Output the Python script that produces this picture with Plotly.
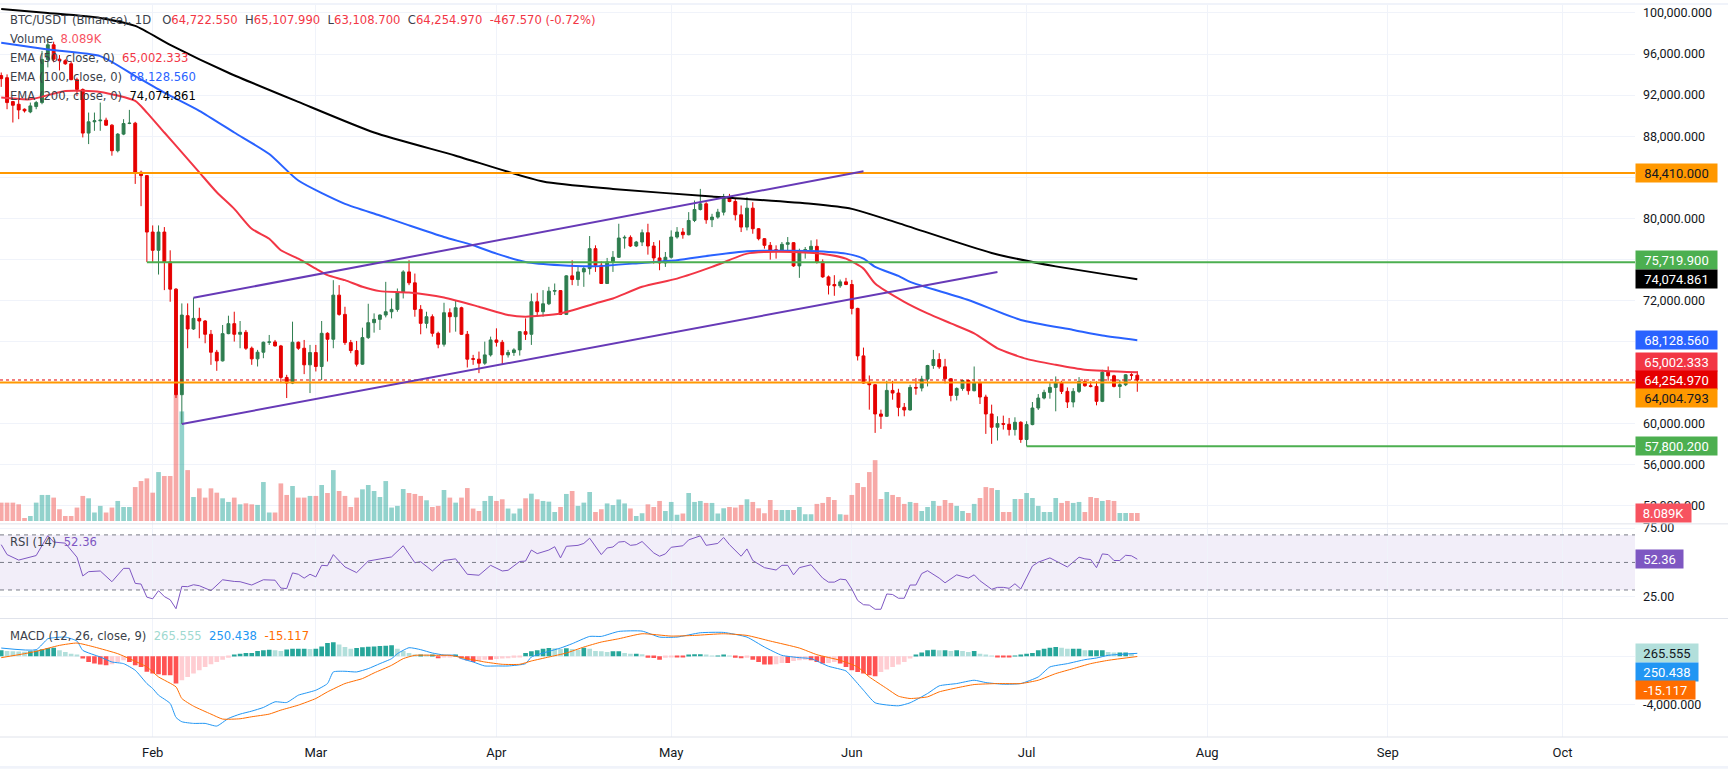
import pandas as pd
import plotly.graph_objects as go

# ---------------- data ----------------
dates = pd.date_range("2026-01-06", "2026-07-20", freq="D")

ohlc_rows = [
    # Jan
    (93900, 94200, 92800, 93600), (93695, 94019, 90624, 91271), (91368, 91433, 89331, 91012),
    (91109, 91594, 89655, 90560), (90624, 90700, 90300, 90463), (90366, 91271, 90237, 90948),
    (90883, 91433, 90624, 91271), (91271, 96300, 91109, 95474), (95474, 97400, 94700, 96900),
    (96900, 97200, 95200, 95500), (95500, 95900, 94400, 95350), (95350, 95500, 94950, 95050),
    (95050, 95300, 93450, 93500), (93500, 93700, 91900, 92550), (92550, 92650, 87880, 88300),
    (88300, 90300, 87230, 89400), (89400, 90300, 88523, 89500), (89500, 91271, 88523, 89560),
    (89560, 89800, 89000, 89073), (89073, 89170, 86098, 86583), (86583, 88300, 86421, 88200),
    (88200, 89655, 88100, 89234), (89234, 90560, 89170, 89267), (89267, 89396, 83350, 84481),
    (84481, 84643, 81183, 84158), (84158, 84222, 75753, 78663),
    # Feb
    (78663, 79309, 75753, 76885), (76885, 79309, 74525, 78663), (78663, 79148, 73005, 75753),
    (75753, 76885, 71874, 73102), (73102, 73200, 62500, 62821), (62821, 71712, 59970, 70580),
    (70516, 71712, 67347, 69223), (69223, 72260, 69126, 70257), (70257, 71292, 68317, 69999),
    (69999, 70096, 67832, 68706), (68706, 69126, 65730, 66959), (66959, 67185, 65148, 66118),
    (66118, 69611, 66054, 68770), (68770, 70516, 68706, 69740), (69740, 70904, 67994, 68706),
    (68706, 69999, 67347, 68900), (68900, 69126, 67185, 67347), (67347, 67509, 65730, 66312),
    (66312, 67185, 65569, 66959), (66959, 67994, 66377, 67929), (67929, 68640, 67670, 67960),
    (67960, 68155, 67509, 67573), (67573, 67670, 63952, 64502), (64502, 64760, 62497, 63952),
    (63952, 69934, 63855, 67929), (67929, 68000, 67185, 67347), (67347, 68155, 64825, 65730),
    (65730, 67670, 62983, 66926),
    # Mar
    (66926, 67670, 65083, 65568), (65568, 70000, 64245, 68802), (68802, 68900, 66053, 68220),
    (68220, 73974, 67346, 72519), (72519, 73490, 70515, 70644), (70644, 71388, 67670, 67896),
    (67896, 68155, 66862, 67120), (67120, 68058, 65568, 65795), (65795, 69351, 65730, 68381),
    (68381, 71678, 68252, 69836), (69836, 70741, 68867, 70159), (70159, 70644, 69125, 70580),
    (70580, 73813, 70353, 70903), (70903, 72196, 70256, 71130), (71130, 73166, 70903, 72778),
    (72778, 74944, 72196, 74782), (74782, 75914, 73490, 73716), (73716, 74621, 70418, 71130),
    (71130, 71550, 68704, 69771), (69771, 70903, 69286, 70418), (70418, 70644, 68478, 68802),
    (68802, 68963, 67346, 67735), (67735, 71775, 67508, 70806), (70806, 71227, 68867, 70418),
    (70418, 72034, 68963, 71291), (71291, 71388, 68640, 68704), (68704, 69028, 65472, 66280),
    (66330, 66700, 65730, 66280), (66280, 67023, 64923, 65892), (65892, 67993, 65730, 66700),
    (66700, 68478, 66538, 68155),
    # Apr
    (68155, 69286, 67508, 67928), (67928, 68155, 65730, 66700), (66700, 67185, 66441, 66926),
    (66926, 67346, 66603, 67185), (67185, 69028, 66635, 68963), (68963, 70256, 68155, 68705),
    (68705, 72680, 67670, 71872), (71872, 72745, 70580, 70903), (70903, 73004, 70418, 71678),
    (71678, 73328, 71550, 72906), (72906, 73651, 72519, 72960), (72960, 73004, 70580, 70644),
    (70644, 74460, 70580, 74395), (74395, 75914, 73490, 74038), (74038, 75267, 73425, 74782),
    (74782, 75267, 73328, 75105), (75105, 78274, 74524, 77046), (77046, 77369, 74782, 75429),
    (75429, 75800, 73600, 73651), (73651, 76140, 73600, 75752), (75752, 76810, 74780, 76205),
    (76205, 79470, 76140, 78080), (78080, 78340, 77045, 78144), (78144, 78340, 77200, 77304),
    (77304, 77800, 77200, 77692), (77692, 78920, 77304, 78597), (78597, 79470, 76463, 77304),
    (77304, 77692, 75590, 76140), (76140, 77854, 74944, 75655), (75655, 76721, 75267, 76205),
    # May
    (76205, 78823, 76077, 78177), (78177, 79147, 78015, 78662), (78662, 79050, 78015, 78403),
    (78403, 80602, 78338, 79793), (79793, 81733, 79632, 80860), (80860, 82865, 80762, 81410),
    (81410, 81571, 79470, 79858), (79858, 80440, 79147, 80117), (80117, 80925, 79955, 80602),
    (80602, 82380, 80279, 82121), (82121, 82380, 81571, 81636), (81636, 81894, 79793, 80343),
    (80343, 81248, 78662, 79147), (79147, 82057, 78823, 80990), (80990, 81571, 78500, 78985),
    (78985, 79050, 77854, 78015), (78015, 78080, 77045, 77368), (77368, 77692, 75979, 76851),
    (76948, 77368, 76075, 76819), (76819, 77692, 76787, 77466), (77466, 78177, 76721, 77627),
    (77627, 77692, 75267, 75364), (75364, 77045, 74200, 76851), (76851, 77207, 76077, 76948),
    (76948, 77854, 76721, 77272), (77272, 77950, 75590, 75752), (75752, 76000, 74200, 74297),
    (74297, 74427, 72583, 73489), (73554, 74460, 72455, 73425), (73425, 74038, 73230, 73812),
    (73812, 74200, 73489, 73554),
    # Jun
    (73554, 74000, 70644, 71226), (71226, 71291, 66150, 66603), (66603, 67411, 63887, 63952),
    (63952, 64695, 61365, 63790), (63790, 63855, 59102, 60945), (60945, 61365, 59490, 60719),
    (60719, 64178, 60654, 63240), (63240, 64178, 62335, 62982), (62982, 63400, 60719, 61592),
    (61592, 62013, 60719, 61334), (61334, 63790, 61269, 63532), (63532, 64437, 62821, 63468),
    (63468, 64663, 63144, 64340), (64340, 65731, 63629, 65666), (65666, 67185, 65343, 66248),
    (66248, 66862, 65343, 65537), (65537, 66312, 63920, 64373), (64373, 64437, 62175, 62756),
    (62756, 63532, 62272, 63435), (63435, 64276, 63209, 64211), (64211, 64276, 62821, 63209),
    (63209, 65569, 63144, 63952), (63952, 64114, 61916, 62595), (62595, 62821, 59006, 60945),
    (60945, 61851, 58035, 59653), (59653, 60719, 58359, 60008), (60008, 60784, 59426, 59944),
    (59944, 60558, 58844, 59426), (59426, 60622, 58844, 60137), (60137, 60234, 58133, 58456),
    # Jul
    (58456, 60234, 57800, 59911), (59911, 62110, 59847, 61527), (61527, 62885, 61333, 62497),
    (62497, 63306, 62368, 63047), (63047, 63952, 62433, 63532), (63532, 64599, 61204, 63952),
    (63952, 64178, 62886, 63144), (63144, 63532, 61527, 62110), (62110, 63468, 61592, 63144),
    (63144, 64534, 62982, 64114), (64114, 64340, 63597, 63694), (63694, 64114, 63532, 63630),
    (63630, 64114, 61787, 62175), (62175, 65246, 62100, 65020), (65020, 65569, 64179, 64663),
    (64663, 64760, 63532, 63630), (63630, 64276, 62498, 63791), (63791, 64825, 63662, 64760),
    (64760, 64922, 64276, 64722.54), (64722.55, 65107.99, 63108.70, 64254.97),
]
open_ = [r[0] for r in ohlc_rows]
high = [r[1] for r in ohlc_rows]
low = [r[2] for r in ohlc_rows]
close = [r[3] for r in ohlc_rows]

volume_k = [
    18.5, 18.5, 18.5, 16.8, 3.0, 5.0, 18.5, 26.3, 26.3, 23.6, 11.8, 5.0, 5.0, 13.5, 25.3, 22.9,
    8.4, 15.2, 8.4, 13.5, 20.2, 14.1, 14.1, 34.3, 40.4, 43.1,
    28.6, 49.5, 45.5, 45.5, 128.0, 111.0, 51.5, 24.2, 33.0, 23.6, 33.0, 28.6, 22.9, 19.2, 23.6,
    16.8, 17.8, 16.8, 16.2, 39.4, 8.4, 8.4, 38.0, 26.3, 35.4, 23.6, 23.6, 25.3,
    25.3, 36.4, 28.3, 51.5, 30.3, 25.3, 14.1, 23.6, 32.0, 36.4, 30.3, 24.2, 40.4, 13.5, 15.2,
    32.3, 28.3, 27.3, 25.3, 20.9, 14.1, 15.2, 31.3, 23.6, 18.5, 23.6, 33.3, 12.5, 10.1, 20.2, 25.3,
    20.2, 21.9, 12.5, 7.4, 12.5, 22.9, 27.6, 21.9, 20.2, 19.5, 9.1, 14.1, 27.3, 30.3, 15.2,
    18.5, 29.3, 9.1, 11.7, 17.7, 16.0, 21.7, 17.7, 12.6, 5.0, 7.7, 16.8, 14.1, 20.2, 10.1,
    19.2, 6.1, 7.4, 28.3, 19.2, 20.2, 18.2, 18.2, 7.4, 12.8, 14.1, 13.5, 16.2, 21.9, 19.2,
    12.8, 7.7, 21.2, 11.1, 11.1, 11.1, 11.1, 14.1, 6.7, 6.7, 17.2, 18.2, 24.2, 21.2, 6.7, 6.1,
    26.3, 38.4, 34.3, 49.5, 61.6, 22.2, 29.3, 26.3, 24.2, 17.2, 19.2, 18.2, 10.1, 14.1, 20.2,
    15.2, 21.2, 18.2, 15.2, 10.1, 8.1, 17.2, 23.2, 34.3, 33.3, 31.3, 9.1, 9.1, 22.2, 22.2,
    28.3, 23.2, 15.2, 9.1, 9.1, 23.2, 18.2, 20.2, 18.2, 19.2, 9.1, 24.2, 23.2, 20.2, 21.2,
    20.2, 8.1, 8.1, 8.1, 8.089,
]

ema50_dates = ["2026-01-06", "2026-01-11", "2026-01-17", "2026-01-23", "2026-01-29", "2026-01-31",
               "2026-02-03", "2026-02-06", "2026-02-09", "2026-02-12", "2026-02-15", "2026-02-18",
               "2026-02-21", "2026-02-23", "2026-02-26", "2026-03-01", "2026-03-03", "2026-03-06",
               "2026-03-09", "2026-03-12", "2026-03-17", "2026-03-23", "2026-03-29", "2026-04-03",
               "2026-04-06", "2026-04-12", "2026-04-18", "2026-04-21", "2026-04-26", "2026-05-02",
               "2026-05-08", "2026-05-14", "2026-05-17", "2026-05-22", "2026-05-28", "2026-05-31",
               "2026-06-03", "2026-06-05", "2026-06-10", "2026-06-14", "2026-06-18", "2026-06-22",
               "2026-06-26", "2026-07-01", "2026-07-06", "2026-07-11", "2026-07-20"]
ema50 = [91756, 91590, 92405, 92310, 91435, 90300, 88360, 86420, 84480, 82540, 80920, 78980,
         78010, 76890, 76070, 75100, 74460, 73980, 73330, 72910, 72775, 72290, 71390, 70580,
         70420, 70740, 71710, 72190, 73330, 74130, 75270, 76560, 76720, 76720, 76460, 76070,
         75100, 73650, 71870, 70740, 69770, 68800, 67340, 66310, 65730, 65250, 65002.333]

ema100_dates = ["2026-01-06", "2026-01-14", "2026-01-23", "2026-01-29", "2026-02-03", "2026-02-09",
                "2026-02-15", "2026-02-21", "2026-02-26", "2026-03-06", "2026-03-12", "2026-03-17",
                "2026-03-23", "2026-03-28", "2026-04-01", "2026-04-06", "2026-04-12", "2026-04-18",
                "2026-04-26", "2026-05-02", "2026-05-08", "2026-05-14", "2026-05-20", "2026-05-25",
                "2026-05-31", "2026-06-03", "2026-06-05", "2026-06-09", "2026-06-11", "2026-06-21",
                "2026-06-30", "2026-07-09", "2026-07-14", "2026-07-20"]
ema100 = [97090, 96440, 95800, 93860, 92240, 90470, 88360, 86260, 83680, 81410, 80280, 79310,
          78180, 77370, 76560, 75750, 75430, 75335, 75660, 75920, 76400, 76790, 76850, 76820,
          76560, 76070, 75270, 74390, 73810, 72040, 70100, 69130, 68580, 68128.56]

ema200_dates = ["2026-01-06", "2026-01-14", "2026-01-23", "2026-01-29", "2026-02-04", "2026-02-14",
                "2026-02-26", "2026-03-11", "2026-03-25", "2026-04-09", "2026-04-21", "2026-05-08",
                "2026-05-25", "2026-06-01", "2026-06-09", "2026-06-25", "2026-07-06", "2026-07-20"]
ema200 = [100390, 100000, 99515, 98740, 96900, 94180, 91340, 88360, 86100, 83580, 82860, 82125,
          81410, 80920, 79535, 76625, 75320, 74074.861]

rsi_dates = ["2026-01-06", "2026-01-07", "2026-01-09", "2026-01-12", "2026-01-14", "2026-01-15",
             "2026-01-17", "2026-01-19", "2026-01-20", "2026-01-21", "2026-01-23", "2026-01-25",
             "2026-01-27", "2026-01-28", "2026-01-29", "2026-01-30", "2026-01-31", "2026-02-01",
             "2026-02-02", "2026-02-03", "2026-02-04", "2026-02-05", "2026-02-06", "2026-02-07",
             "2026-02-08", "2026-02-09", "2026-02-11", "2026-02-13", "2026-02-15", "2026-02-16",
             "2026-02-18", "2026-02-20", "2026-02-22", "2026-02-23", "2026-02-24", "2026-02-25",
             "2026-02-26", "2026-02-27", "2026-02-28", "2026-03-01", "2026-03-02", "2026-03-03",
             "2026-03-04", "2026-03-06", "2026-03-08", "2026-03-10", "2026-03-14", "2026-03-16",
             "2026-03-18", "2026-03-19", "2026-03-21", "2026-03-23", "2026-03-25", "2026-03-27",
             "2026-03-29", "2026-03-31", "2026-04-02", "2026-04-03", "2026-04-05", "2026-04-06",
             "2026-04-07", "2026-04-08", "2026-04-10", "2026-04-11", "2026-04-12", "2026-04-13",
             "2026-04-15", "2026-04-16", "2026-04-17", "2026-04-19", "2026-04-20", "2026-04-21",
             "2026-04-22", "2026-04-23", "2026-04-24", "2026-04-25", "2026-04-26", "2026-04-28",
             "2026-04-29", "2026-04-30", "2026-05-01", "2026-05-03", "2026-05-04", "2026-05-06",
             "2026-05-07", "2026-05-09", "2026-05-10", "2026-05-11", "2026-05-13", "2026-05-14",
             "2026-05-15", "2026-05-17", "2026-05-19", "2026-05-20", "2026-05-21", "2026-05-22",
             "2026-05-23", "2026-05-25", "2026-05-27", "2026-05-28", "2026-05-29", "2026-05-30",
             "2026-05-31", "2026-06-01", "2026-06-02", "2026-06-03", "2026-06-04", "2026-06-05",
             "2026-06-06", "2026-06-07", "2026-06-08", "2026-06-09", "2026-06-10", "2026-06-11",
             "2026-06-12", "2026-06-13", "2026-06-14", "2026-06-16", "2026-06-17", "2026-06-19",
             "2026-06-21", "2026-06-22", "2026-06-23", "2026-06-25", "2026-06-26", "2026-06-27",
             "2026-06-28", "2026-06-29", "2026-06-30", "2026-07-01", "2026-07-02", "2026-07-03",
             "2026-07-05", "2026-07-08", "2026-07-10", "2026-07-11", "2026-07-12", "2026-07-13",
             "2026-07-14", "2026-07-15", "2026-07-16", "2026-07-17", "2026-07-18", "2026-07-19",
             "2026-07-20"]
rsi = [62.9, 55.7, 51.7, 55.0, 69.5, 64.8, 64.0, 53.8, 40.2, 43.3, 43.8, 36.0, 45.7, 45.7, 34.8,
       34.3, 24.8, 23.6, 29.5, 25.2, 22.9, 16.4, 32.6, 32.4, 33.8, 33.1, 29.5, 37.4, 36.2, 36.0,
       33.6, 37.4, 37.1, 31.4, 31.0, 42.4, 41.4, 38.6, 41.4, 39.5, 47.9, 47.6, 55.7, 46.7, 42.6,
       51.0, 54.0, 62.1, 49.8, 50.5, 43.8, 51.4, 52.6, 41.4, 40.7, 47.9, 43.8, 44.3, 50.7, 51.0,
       59.0, 56.4, 59.0, 61.4, 53.3, 61.7, 62.4, 63.8, 67.6, 55.7, 60.5, 61.2, 64.8, 65.2, 62.4,
       62.9, 65.2, 56.9, 54.5, 56.2, 61.0, 62.1, 66.4, 69.3, 62.4, 63.8, 68.1, 62.9, 54.5, 59.8,
       51.4, 46.2, 44.5, 47.9, 47.9, 41.0, 46.2, 48.3, 38.6, 35.7, 35.7, 37.9, 37.4, 30.7, 22.4,
       19.3, 19.0, 16.0, 16.0, 27.1, 26.7, 24.0, 24.0, 33.6, 33.6, 41.9, 44.0, 38.6, 35.2, 41.0,
       38.6, 41.0, 36.7, 30.5, 31.9, 31.9, 31.2, 34.5, 30.7, 39.0, 47.4, 50.2, 53.3, 46.7, 53.8,
       52.6, 52.1, 46.2, 56.2, 55.7, 51.4, 51.4, 55.2, 54.8, 52.36]

macd_dates = ["2026-01-06", "2026-01-12", "2026-01-14", "2026-01-15", "2026-01-17", "2026-01-19",
              "2026-01-20", "2026-01-23", "2026-01-25", "2026-01-27", "2026-01-29", "2026-01-31",
              "2026-02-01", "2026-02-02", "2026-02-04", "2026-02-05", "2026-02-06", "2026-02-08",
              "2026-02-10", "2026-02-12", "2026-02-14", "2026-02-16", "2026-02-18", "2026-02-20",
              "2026-02-22", "2026-02-24", "2026-02-26", "2026-02-27", "2026-03-01", "2026-03-03",
              "2026-03-04", "2026-03-06", "2026-03-08", "2026-03-10", "2026-03-12", "2026-03-14",
              "2026-03-15", "2026-03-17", "2026-03-19", "2026-03-21", "2026-03-23", "2026-03-25",
              "2026-03-26", "2026-03-28", "2026-03-30", "2026-04-01", "2026-04-03", "2026-04-06",
              "2026-04-07", "2026-04-10", "2026-04-12", "2026-04-14", "2026-04-17", "2026-04-19",
              "2026-04-22", "2026-04-26", "2026-04-29", "2026-05-02", "2026-05-06", "2026-05-10",
              "2026-05-14", "2026-05-17", "2026-05-20", "2026-05-23", "2026-05-25", "2026-05-28",
              "2026-05-31", "2026-06-01", "2026-06-03", "2026-06-05", "2026-06-09", "2026-06-11",
              "2026-06-14", "2026-06-16", "2026-06-19", "2026-06-22", "2026-06-24", "2026-06-27",
              "2026-06-30", "2026-07-03", "2026-07-05", "2026-07-08", "2026-07-11", "2026-07-13",
              "2026-07-15", "2026-07-20"]
macd = [694, 556, 1472, 1556, 1611, 1278, 500, -56, -472, -611, -1167, -2278, -2695, -3250,
        -3945, -5111, -5473, -5612, -5612, -5834, -5195, -4834, -4584, -4278, -3806, -3861,
        -3250, -3111, -2834, -2278, -1306, -1250, -1306, -1028, -611, -194, 222, 722, 556, 278,
        111, 83, -194, -472, -806, -806, -806, -611, -56, 417, 694, 1056, 1667, 1667, 2084,
        2111, 1611, 1611, 1972, 2000, 1611, 778, 83, -111, -194, -833, -1222, -1722, -2834,
        -3889, -4139, -3889, -3111, -2472, -2278, -2000, -2195, -2334, -2278, -1722, -889,
        -611, -278, -139, 83, 250.438]

signal_dates = ["2026-01-06", "2026-01-10", "2026-01-12", "2026-01-16", "2026-01-19", "2026-01-22",
                "2026-01-26", "2026-01-28", "2026-01-31", "2026-02-02", "2026-02-05", "2026-02-06",
                "2026-02-08", "2026-02-11", "2026-02-13", "2026-02-16", "2026-02-18", "2026-02-21",
                "2026-02-23", "2026-02-26", "2026-03-01", "2026-03-03", "2026-03-06", "2026-03-09",
                "2026-03-11", "2026-03-14", "2026-03-16", "2026-03-18", "2026-03-22", "2026-03-24",
                "2026-03-27", "2026-03-30", "2026-04-02", "2026-04-05", "2026-04-07", "2026-04-10",
                "2026-04-13", "2026-04-16", "2026-04-19", "2026-04-22", "2026-04-26", "2026-05-01",
                "2026-05-05", "2026-05-10", "2026-05-14", "2026-05-18", "2026-05-23", "2026-05-26",
                "2026-05-30", "2026-06-02", "2026-06-04", "2026-06-07", "2026-06-09", "2026-06-11",
                "2026-06-14", "2026-06-16", "2026-06-19", "2026-06-22", "2026-06-26", "2026-06-30",
                "2026-07-03", "2026-07-06", "2026-07-09", "2026-07-12", "2026-07-15", "2026-07-20"]
signal = [-111, 222, 417, 917, 1111, 778, 222, -194, -889, -1722, -2556, -3528, -4167, -4834,
          -5250, -5223, -5056, -4834, -4500, -4084, -3528, -2973, -2278, -1861, -1389, -750,
          -194, 83, 83, 83, -194, -472, -667, -667, -389, -56, 278, 778, 1195, 1472, 1889, 1695,
          1750, 1889, 1750, 1278, 694, 139, -333, -889, -1722, -2695, -3334, -3528, -3389,
          -2973, -2639, -2361, -2278, -2278, -2000, -1445, -1028, -611, -333, -15.117]

hist = [
    500, 450, 420, 400, 380, 420, 480, 600, 700, 720, 500, 360, 220, 80, -190, -470, -610,
    -690, -750, -670, -470, -330, -470, -750, -890, -1300,
    -1440, -1500, -1580, -1580, -2280, -2000, -1720, -1440, -1170, -890, -670, -470, -280,
    -110, 140, 220, 280, 280, 440, 500, 560, 500, 440, 580, 640, 640, 640, 620,
    640, 830, 1110, 1170, 1000, 780, 640, 700, 750, 800, 830, 860, 890, 920, 640, 450, 280,
    140, 140, 80, 80, -170, -60, -30, 110, -190, -330, -470, -390, -280, -280,
    -220, -190, -170, -110, -60, 280, 420, 500, 640, 690, 670, 610, 670, 610, 560, 720, 640,
    440, 420, 360, 420, 420, 280, 220, 220, 170, -110, -140, -280, -110,
    -60, -60, -60, 80, 170, 170, 80, 60, 60, 80, 30, -110, -170, -110, -280, -470, -690,
    -690, -670, -560, -560, -390, -330, -280, -330, -470, -610, -560, -470, -610,
    -890, -1170, -1310, -1440, -1580, -1670, -1310, -1110, -890, -690, -470, -190, 80, 310,
    500, 560, 500, 500, 440, 500, 440, 360, 440, 220, 80, 10, -60, -60, -60, 30,
    80, 220, 280, 500, 640, 720, 780, 720, 640, 640, 640, 500, 500, 500, 500, 360, 310, 310,
    310, 265.555,
]

# drawn levels / tools
level_full_values = [84410.000, 64004.793]
level_green_values = [75719.900, 57800.200]
level_green_start = ["2026-01-31", "2026-07-01"]
channel_upper = (["2026-02-08", "2026-06-03"], [72260, 84578])
channel_lower = (["2026-02-06", "2026-06-26"], [59970, 74782])

month_ticks = ["2026-02-01", "2026-03-01", "2026-04-01", "2026-05-01", "2026-06-01",
               "2026-07-01", "2026-08-01", "2026-09-01", "2026-10-01"]
month_labels = ["Feb", "Mar", "Apr", "May", "Jun", "Jul", "Aug", "Sep", "Oct"]
price_ticks = list(range(52000, 100001, 4000))
price_ticks_hidden = [64000, 68000, 76000, 84000]   # covered by price badges on the chart

# ---------------- styling ----------------
W, H = 1728, 769
PLOT_R = 1635
PLOT_H = 737
FONT = "Roboto"
LFONT = "DejaVu Sans"
TXT = "#131722"
GRID = "#F0F3FA"
UP, DOWN = "#2E7D4F", "#E50000"
VOL_UP, VOL_DOWN = "rgba(38,166,154,0.5)", "rgba(239,83,80,0.5)"
X_RANGE = ["2026-01-05 18:58", "2026-10-13 10:16"]


def py(pix):
    return 1 - pix / PLOT_H


price_dom = [py(523), 1]
rsi_dom = [py(618), py(523)]
macd_dom = [0, py(618)]

fig = go.Figure()

vol_colors = [VOL_UP if c >= o else VOL_DOWN for o, c in zip(open_, close)]
fig.add_trace(go.Bar(x=dates, y=volume_k, marker=dict(color=vol_colors, line=dict(width=0)),
                     xaxis="x", yaxis="y", hoverinfo="skip"))

fig.add_trace(go.Candlestick(
    x=dates, open=open_, high=high, low=low, close=close, xaxis="x", yaxis="y2",
    increasing=dict(line=dict(color=UP, width=1), fillcolor=UP),
    decreasing=dict(line=dict(color=DOWN, width=1), fillcolor=DOWN),
    whiskerwidth=0, hoverinfo="skip"))

for xs, ys, col in [(ema200_dates, ema200, "#000000"), (ema100_dates, ema100, "#2962FF"),
                    (ema50_dates, ema50, "#F23645")]:
    fig.add_trace(go.Scatter(x=xs, y=ys, mode="lines", xaxis="x", yaxis="y2",
                             line=dict(color=col, width=2, shape="spline", smoothing=0.6),
                             hoverinfo="skip"))

fig.add_trace(go.Scatter(x=rsi_dates, y=rsi, mode="lines", xaxis="x", yaxis="y3",
                         line=dict(color="#7E57C2", width=1), hoverinfo="skip"))

hist_colors = []
for i, v in enumerate(hist):
    prev = hist[i - 1] if i > 0 else v
    if v >= 0:
        hist_colors.append("#26A69A" if v >= prev else "#B2DFDB")
    else:
        hist_colors.append("#FF5252" if v <= prev else "#FFCDD2")
fig.add_trace(go.Bar(x=dates, y=hist, marker=dict(color=hist_colors, line=dict(width=0)),
                     xaxis="x", yaxis="y4", hoverinfo="skip"))
fig.add_trace(go.Scatter(x=macd_dates, y=macd, mode="lines", xaxis="x", yaxis="y4",
                         line=dict(color="#2196F3", width=1, shape="spline", smoothing=0.5),
                         hoverinfo="skip"))
fig.add_trace(go.Scatter(x=signal_dates, y=signal, mode="lines", xaxis="x", yaxis="y4",
                         line=dict(color="#FF6D00", width=1, shape="spline", smoothing=0.5),
                         hoverinfo="skip"))

shapes = []
# RSI band and guide lines
shapes.append(dict(type="rect", xref="paper", x0=0, x1=1, yref="y3", y0=30, y1=70,
                   fillcolor="rgba(126,87,194,0.1)", line=dict(width=0), layer="below"))
for lv in (70, 50, 30):
    shapes.append(dict(type="line", xref="paper", x0=0, x1=1, yref="y3", y0=lv, y1=lv,
                       line=dict(color="#787B86", width=1, dash="4px,4px")))
# horizontal levels
for v in level_full_values:
    shapes.append(dict(type="line", xref="paper", x0=0, x1=1, yref="y2", y0=v, y1=v,
                       line=dict(color="#FF9800", width=2)))
for v, d0 in zip(level_green_values, level_green_start):
    shapes.append(dict(type="line", xref="x", x0=d0, x1=X_RANGE[1], yref="y2", y0=v, y1=v,
                       line=dict(color="#4CAF50", width=2)))
# last price line
shapes.append(dict(type="line", xref="paper", x0=0, x1=1, yref="y2", y0=close[-1], y1=close[-1],
                   line=dict(color=DOWN, width=1, dash="dot")))
# channel
for xs, ys in (channel_upper, channel_lower):
    shapes.append(dict(type="line", xref="x", x0=xs[0], x1=xs[1], yref="y2", y0=ys[0], y1=ys[1],
                       line=dict(color="#673AB7", width=2)))
# pane separators and page edges
XR = W / PLOT_R
for pix in (523, 618, 737):
    shapes.append(dict(type="line", xref="paper", x0=0, x1=XR, yref="paper", y0=py(pix),
                       y1=py(pix), line=dict(color="#E0E3EB", width=1)))
shapes.append(dict(type="rect", xref="paper", x0=0, x1=XR, yref="paper", y0=py(769), y1=py(766),
                   fillcolor="#F0F3FA", line=dict(width=0)))
shapes.append(dict(type="rect", xref="paper", x0=0, x1=XR, yref="paper", y0=py(2), y1=py(0),
                   fillcolor="#F0F3FA", line=dict(width=0)))

ann = []


def legend(text, pix):
    ann.append(dict(text=text, xref="paper", yref="paper", x=0, xshift=8, y=py(pix),
                    xanchor="left", yanchor="middle", showarrow=False, align="left",
                    font=dict(family=LFONT, size=11.6, color="#3b3f4a")))


def col(t, c):
    return f"<span style='color:{c}'>{t}</span>"


R = "#F23645"
chg = close[-1] - close[-2]
pct = chg / close[-2] * 100
g1 = "\u00a0\u00a0\u00a0"
g = "\u00a0\u00a0"
legend("BTC/USDT (Binance), 1D" + g1 + "O" + col(f"{open_[-1]:,.3f}", R) + g + "H"
       + col(f"{high[-1]:,.3f}", R) + g + "L" + col(f"{low[-1]:,.3f}", R) + g + "C"
       + col(f"{close[-1]:,.3f}", R) + g + col(f"{chg:,.3f} ({pct:.2f}%)", R), 17)
legend("Volume" + g + col(f"{volume_k[-1]:.3f}K", "#F7525F"), 36)
legend("EMA (50, close, 0)" + g + col(f"{ema50[-1]:,.3f}", R), 55.5)
legend("EMA (100, close, 0)" + g + col(f"{ema100[-1]:,.3f}", "#2962FF"), 74.5)
legend("EMA (200, close, 0)" + g + col(f"{ema200[-1]:,.3f}", "#000000"), 93.5)
legend("RSI (14)" + g + col(f"{rsi[-1]:.2f}", "#7E57C2"), 541)
legend("MACD (12, 26, close, 9)" + g + col(f"{hist[-1]:,.3f}", "#9FD9D0") + g
       + col(f"{macd[-1]:,.3f}", "#2196F3") + g + col(f"{signal[-1]:,.3f}", "#FF6D00"), 636)


def badge(text, yref, y, bg, fg, width, yshift=0):
    ann.append(dict(text=text, xref="paper", x=1, xanchor="left", yref=yref, y=y,
                    yanchor="middle", yshift=yshift, showarrow=False, bgcolor=bg,
                    width=width, height=16, borderpad=1, align="center",
                    font=dict(family=FONT, size=13, color=fg)))


badge(f"{level_full_values[0]:,.3f}", "y2", level_full_values[0], "#FF9800", TXT, 79)
badge(f"{level_green_values[0]:,.3f}", "y2", level_green_values[0], "#4CAF50", "white", 79, 2.6)
badge(f"{ema200[-1]:,.3f}", "y2", ema200[-1], "#000000", "white", 79)
badge(f"{ema100[-1]:,.3f}", "y2", ema100[-1], "#2962FF", "white", 79)
badge(f"{ema50[-1]:,.3f}", "y2", ema50[-1], "#F23645", "white", 79, 10.8)
badge(f"{close[-1]:,.3f}", "y2", close[-1], DOWN, "white", 79)
badge(f"{level_full_values[1]:,.3f}", "y2", level_full_values[1], "#FF9800", TXT, 79, -15.7)
badge(f"{level_green_values[1]:,.3f}", "y2", level_green_values[1], "#4CAF50", "white", 79)
badge(f"{volume_k[-1]:.3f}K", "y", volume_k[-1], "#F7525F", "white", 53)
badge(f"{rsi[-1]:.2f}", "y3", rsi[-1], "#7E57C2", "white", 45)
badge(f"{hist[-1]:,.3f}", "y4", hist[-1], "#B2DFDB", TXT, 60)
badge(f"{macd[-1]:,.3f}", "y4", macd[-1], "#2196F3", "white", 60, -18.7)
badge(f"{signal[-1]:,.3f}", "y4", signal[-1], "#FF6D00", "white", 57, -33.8)

axis_font = dict(family=FONT, size=12.5, color=TXT)
common_y = dict(side="right", showline=False, zeroline=False, ticks="", ticklabelstandoff=7,
                tickfont=axis_font, gridcolor=GRID, gridwidth=1, fixedrange=True)

price_text = ["" if v in price_ticks_hidden else f"{v:,.3f}" for v in price_ticks]

fig.update_layout(
    width=W, height=H, margin=dict(l=0, r=W - PLOT_R, t=0, b=H - PLOT_H),
    paper_bgcolor="white", plot_bgcolor="white", showlegend=False, hovermode=False,
    barmode="overlay", bargap=0.2, font=dict(family=FONT, size=13, color=TXT),
    xaxis=dict(type="date", range=X_RANGE, anchor="y4", domain=[0, 1], showgrid=True,
               gridcolor=GRID, zeroline=False, showline=False, ticks="",
               tickvals=month_ticks, ticktext=month_labels,
               tickfont=dict(family=FONT, size=13, color=TXT),
               rangeslider=dict(visible=False), ticklabelstandoff=6),
    yaxis=dict(domain=price_dom, range=[-3.03, 525.2], visible=False, showgrid=False,
               zeroline=False, anchor="x"),
    yaxis2=dict(common_y, overlaying="y", anchor="x", range=[50242, 100970],
                tickvals=price_ticks, ticktext=price_text, showgrid=True),
    yaxis3=dict(common_y, domain=rsi_dom, anchor="x", range=[9.3, 78], tickvals=[25, 75],
                ticktext=["25.00", "75.00"], showgrid=True),
    yaxis4=dict(common_y, domain=macd_dom, anchor="x", range=[-6750, 3167], tickvals=[-4000, 0],
                ticktext=["-4,000.000", ""], showgrid=True),
    shapes=shapes, annotations=ann,
)

fig.write_html("out.html")
